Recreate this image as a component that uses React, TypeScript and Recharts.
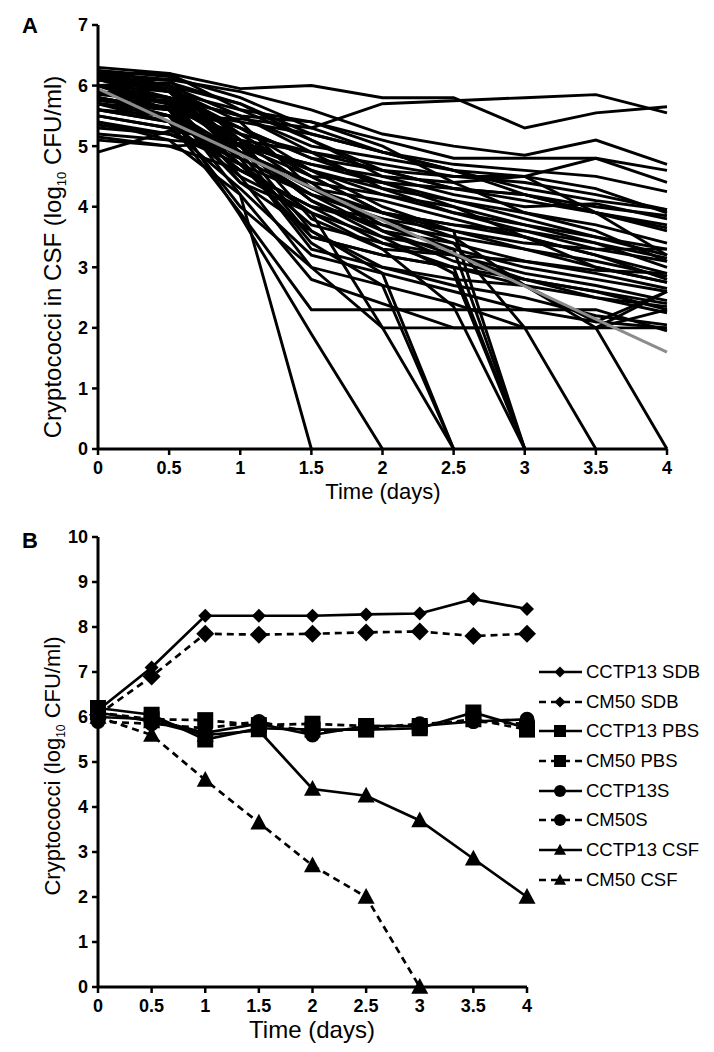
import React from "react";
import { LineChart, Line, XAxis, YAxis } from "recharts";

// sampling days shared by both panels
const days = [0, 0.5, 1, 1.5, 2, 2.5, 3, 3.5, 4];
const panelAYTicks = [0, 1, 2, 3, 4, 5, 6, 7];
const panelBYTicks = [0, 1, 2, 3, 4, 5, 6, 7, 8, 9, 10];

// Panel A: one list per patient, log10 CFU/ml at each day (stops once cleared)
const patientLogCfu: number[][] = [
  [6.2, 6.2, 5.95, 6.0, 5.8, 5.8, 5.3, 5.55, 5.65],
  [5.6, 5.5, 5.45, 5.3, 5.7, 5.75, 5.8, 5.85, 5.55],
  [6.1, 6.1, 5.9, 5.6, 5.2, 5.0, 4.85, 5.1, 4.7],
  [6.0, 5.9, 5.6, 5.4, 5.1, 4.8, 4.8, 4.8, 4.6],
  [5.9, 5.8, 5.5, 5.0, 4.8, 4.6, 4.5, 4.8, 4.4],
  [6.2, 6.0, 5.7, 5.2, 4.9, 4.7, 4.6, 4.5, 4.25],
  [5.8, 5.6, 5.2, 4.9, 4.7, 4.5, 4.4, 4.2, 3.95],
  [6.1, 5.9, 5.3, 4.8, 4.6, 4.5, 4.5, 4.3, 3.9],
  [5.5, 5.3, 5.0, 4.7, 4.4, 4.3, 4.2, 4.0, 3.85],
  [6.3, 6.2, 5.6, 5.1, 4.5, 4.2, 4.0, 4.05, 3.8],
  [5.7, 5.6, 5.4, 5.2, 4.9, 4.6, 4.2, 3.9, 3.7],
  [6.0, 5.7, 5.1, 4.6, 4.3, 4.1, 3.9, 3.7, 3.4],
  [5.2, 5.1, 5.0, 4.7, 4.5, 4.4, 4.5, 3.9, 3.2],
  [5.9, 5.8, 5.5, 5.4, 5.0, 4.4, 3.9, 3.6, 3.1],
  [6.1, 5.8, 4.9, 4.3, 4.1, 3.8, 3.5, 3.2, 2.9],
  [5.8, 5.5, 4.6, 4.0, 3.7, 3.5, 3.3, 3.1, 2.85],
  [6.2, 6.0, 5.2, 4.5, 3.9, 3.6, 3.3, 3.0, 2.75],
  [5.4, 5.2, 4.8, 4.2, 3.8, 3.4, 3.1, 2.9, 2.65],
  [6.0, 5.6, 4.4, 3.9, 3.5, 3.3, 3.0, 2.8, 2.6],
  [5.7, 5.5, 4.7, 3.7, 3.4, 3.2, 2.9, 2.7, 2.45],
  [6.2, 5.9, 4.9, 3.5, 3.2, 3.0, 2.8, 2.6, 2.3],
  [5.9, 5.7, 5.0, 4.1, 3.6, 3.2, 2.8, 2.5, 2.25],
  [5.1, 5.0, 4.6, 4.0, 3.4, 3.0, 2.7, 2.1, 2.6],
  [6.0, 5.8, 5.3, 4.6, 4.0, 3.6, 3.4, 3.3, 3.3],
  [5.6, 5.4, 4.9, 4.4, 4.2, 4.0, 3.7, 3.5, 3.2],
  [6.1, 6.0, 5.5, 4.9, 4.3, 3.9, 3.6, 3.3, 3.1],
  [5.3, 5.2, 4.7, 4.2, 3.9, 3.7, 3.5, 3.0, 2.75],
  [5.8, 5.6, 4.8, 3.3, 3.0, 2.8, 2.7, 2.5, 2.35],
  [6.2, 6.1, 5.1, 3.8, 3.3, 3.2, 3.1, 2.95, 2.9],
  [5.9, 5.7, 4.2, 2.8, 2.4, 2.0, 2.0, 2.0, 2.0],
  [6.0, 5.8, 4.5, 3.0, 2.0, 2.0, 2.0, 2.0, 2.6],
  [5.7, 5.4, 3.9, 2.3, 2.3, 2.3, 2.3, 2.3, 1.95],
  [6.1, 5.9, 4.8, 3.4, 2.7, 2.4, 2.0, 2.0, 2.3],
  [5.5, 5.3, 4.3, 3.2, 2.9, 2.6, 2.3, 2.1, 2.0],
  [6.2, 6.0, 5.0, 3.6, 3.0, 2.7, 2.5, 2.2, 2.05],
  [5.4, 5.1, 4.2, 0],
  [5.9, 5.6, 3.85, 1.9, 0],
  [5.8, 5.5, 4.0, 3.0, 2.7, 0],
  [6.0, 5.7, 4.4, 3.6, 2.9, 0],
  [5.6, 5.4, 4.5, 3.9, 2.0, 0],
  [6.2, 5.9, 5.0, 4.1, 3.5, 2.9, 0],
  [5.9, 5.6, 4.7, 3.9, 3.3, 2.35, 0],
  [5.7, 5.5, 4.6, 4.0, 3.8, 3.6, 0],
  [6.0, 5.8, 5.1, 4.3, 3.7, 3.3, 0],
  [5.8, 5.6, 4.9, 4.2, 3.6, 3.4, 2.0, 0],
  [6.1, 5.9, 5.2, 4.5, 3.9, 3.5, 2.7, 2.0, 0],
  [6.0, 5.7, 4.7, 3.5, 3.2, 3.0, 0],
  [4.9, 5.25, 5.1, 4.9, 4.6, 4.3, 4.1, 3.9, 3.65],
  [5.15, 5.0, 5.05, 4.6, 4.2, 3.9, 3.7, 3.4, 3.0],
  [5.35, 5.2, 4.9, 4.4, 3.6, 3.1, 2.8, 2.6, 2.4],
  [6.25, 6.15, 5.8, 5.3, 4.9, 4.6, 4.3, 4.1, 3.95],
  [6.0, 6.05, 5.7, 5.1, 4.6, 4.3, 4.2, 3.9, 3.6],
  [5.75, 5.65, 5.3, 4.8, 4.4, 4.1, 3.8, 3.5, 3.3],
  [6.15, 5.95, 5.4, 4.3, 3.9, 3.7, 3.6, 3.4, 3.15],
  [5.85, 5.75, 5.0, 4.5, 4.4, 4.0, 3.5, 3.2, 2.8],
];

// grey fitted decline line
const trendDays = [0, 4];
const trendLogCfu = [5.95, 1.6];

// Panel B series
const cctp13Sdb = [6.15, 7.1, 8.25, 8.25, 8.25, 8.28, 8.3, 8.62, 8.4];
const cm50Sdb = [6.05, 6.9, 7.85, 7.83, 7.85, 7.88, 7.9, 7.8, 7.85];
const cctp13Pbs = [6.2, 6.05, 5.5, 5.75, 5.72, 5.72, 5.75, 6.1, 5.75];
const cm50Pbs = [6.1, 5.95, 5.93, 5.82, 5.85, 5.8, 5.8, 5.95, 5.72];
const cctp13S = [6.0, 5.95, 5.65, 5.85, 5.6, 5.8, 5.8, 5.9, 5.95];
const cm50S = [5.9, 5.85, 5.75, 5.9, 5.65, 5.75, 5.85, 5.9, 5.85];
const cctp13Csf = [6.1, 5.9, 5.6, 5.7, 4.4, 4.25, 3.7, 2.85, 2.0];
const cm50Csf = [6.0, 5.6, 4.6, 3.65, 2.7, 2.0, 0];

type Shape = "diamond" | "square" | "circle" | "triangle";

const seriesB: { key: string; name: string; values: number[]; dashed: boolean; shape: Shape; size: number }[] = [
  { key: "cctp13Sdb", name: "CCTP13 SDB", values: cctp13Sdb, dashed: false, shape: "diamond", size: 14 },
  { key: "cm50Sdb", name: "CM50 SDB", values: cm50Sdb, dashed: true, shape: "diamond", size: 18 },
  { key: "cctp13Pbs", name: "CCTP13 PBS", values: cctp13Pbs, dashed: false, shape: "square", size: 16 },
  { key: "cm50Pbs", name: "CM50 PBS", values: cm50Pbs, dashed: true, shape: "square", size: 16 },
  { key: "cctp13S", name: "CCTP13S", values: cctp13S, dashed: false, shape: "circle", size: 15 },
  { key: "cm50S", name: "CM50S", values: cm50S, dashed: true, shape: "circle", size: 15 },
  { key: "cctp13Csf", name: "CCTP13 CSF", values: cctp13Csf, dashed: false, shape: "triangle", size: 17 },
  { key: "cm50Csf", name: "CM50 CSF", values: cm50Csf, dashed: true, shape: "triangle", size: 17 },
];
// draw order so squares and diamonds sit on top like the original
const drawOrderB = ["cctp13S", "cm50S", "cctp13Csf", "cm50Csf", "cm50Pbs", "cctp13Pbs", "cm50Sdb", "cctp13Sdb"];

const rowsA = days.map((day, i) => {
  const row: Record<string, number> = { day };
  patientLogCfu.forEach((p, j) => {
    if (p[i] !== undefined) row[`p${j}`] = p[i];
  });
  const t = trendDays.indexOf(day);
  if (t >= 0) row.trend = trendLogCfu[t];
  return row;
});

const rowsB = days.map((day, i) => {
  const row: Record<string, number> = { day };
  seriesB.forEach((s) => {
    if (s.values[i] !== undefined) row[s.key] = s.values[i];
  });
  return row;
});

const FONT = '"Liberation Sans", Arial, Helvetica, sans-serif';
const NARROW = '"Liberation Sans Narrow", "Liberation Sans", Arial, sans-serif';

function Marker({ cx, cy, shape, size }: { cx: number; cy: number; shape: Shape; size: number }) {
  const r = size / 2;
  if (shape === "diamond")
    return <path d={`M${cx},${cy - r}L${cx + r},${cy}L${cx},${cy + r}L${cx - r},${cy}Z`} fill="#000" />;
  if (shape === "square") return <rect x={cx - r} y={cy - r} width={size} height={size} fill="#000" />;
  if (shape === "circle") return <circle cx={cx} cy={cy} r={r} fill="#000" />;
  return <path d={`M${cx},${cy - r * 1.05}L${cx + r},${cy + r * 0.8}L${cx - r},${cy + r * 0.8}Z`} fill="#000" />;
}

function LegendB() {
  return (
    <div style={{ position: "absolute", left: 538, top: 657 }}>
      {seriesB.map((s) => (
        <div key={s.key} style={{ display: "flex", alignItems: "center", height: 29.7 }}>
          <svg width={46} height={20}>
            <line
              x1={1}
              y1={10}
              x2={44}
              y2={10}
              stroke="#000"
              strokeWidth={2.6}
              strokeDasharray={s.dashed ? "7 5" : undefined}
            />
            <Marker cx={22} cy={10} shape={s.shape} size={s.shape === "diamond" ? 11 : 12} />
          </svg>
          <span style={{ fontFamily: FONT, fontSize: 18.5, marginLeft: 2, color: "#000", whiteSpace: "nowrap" }}>
            {s.name}
          </span>
        </div>
      ))}
    </div>
  );
}

const tickA = { fill: "#000", fontFamily: FONT, fontSize: 18, fontWeight: 700 };
const tickB = { fill: "#000", fontFamily: NARROW, fontSize: 18, fontWeight: 700 };

export default function App() {
  return (
    <div style={{ position: "relative", width: 714, height: 1052, margin: -8, background: "#fff" }}>
      {/* Panel A */}
      <div style={{ position: "absolute", left: 22, top: 15, fontFamily: FONT, fontWeight: 700, fontSize: 22, lineHeight: "22px" }}>A</div>
      <div style={{ position: "absolute", left: 0, top: 0 }}>
        <LineChart width={714} height={500} data={rowsA} margin={{ top: 25, right: 47, bottom: 21, left: 0 }}>
          <XAxis
            dataKey="day"
            type="number"
            domain={[0, 4]}
            ticks={days}
            height={30}
            tick={tickA}
            tickSize={6}
            tickMargin={6}
            axisLine={{ stroke: "#000", strokeWidth: 3 }}
            tickLine={{ stroke: "#000", strokeWidth: 2.5 }}
          />
          <YAxis
            type="number"
            domain={[0, 7]}
            ticks={panelAYTicks}
            width={98}
            tick={tickA}
            tickSize={6}
            tickMargin={4}
            axisLine={{ stroke: "#000", strokeWidth: 3 }}
            tickLine={{ stroke: "#000", strokeWidth: 2.5 }}
          />
          {patientLogCfu.map((_, j) => (
            <Line
              key={`p${j}`}
              dataKey={`p${j}`}
              stroke="#000"
              strokeWidth={2.9}
              dot={false}
              isAnimationActive={false}
            />
          ))}
          <Line dataKey="trend" stroke="#8c8c8c" strokeWidth={3} dot={false} connectNulls isAnimationActive={false} />
        </LineChart>
      </div>
      <div
        style={{
          position: "absolute",
          left: 54,
          top: 257,
          transform: "translate(-50%, -50%) rotate(-90deg)",
          whiteSpace: "nowrap",
          fontFamily: FONT,
          fontSize: 24,
        }}
      >
        Cryptococci in CSF (log<sub style={{ fontSize: 13 }}>10</sub> CFU/ml)
      </div>
      <div style={{ position: "absolute", left: 383, top: 492, transform: "translate(-50%, -50%)", fontFamily: FONT, fontSize: 22, whiteSpace: "nowrap" }}>
        Time (days)
      </div>

      {/* Panel B */}
      <div style={{ position: "absolute", left: 22, top: 530, fontFamily: FONT, fontWeight: 700, fontSize: 22, lineHeight: "22px" }}>B</div>
      <div style={{ position: "absolute", left: 0, top: 520 }}>
        <LineChart width={714} height={530} data={rowsB} margin={{ top: 17, right: 187, bottom: 33, left: 0 }}>
          <XAxis
            dataKey="day"
            type="number"
            domain={[0, 4]}
            ticks={days}
            height={30}
            tick={tickB}
            tickSize={6}
            tickMargin={6}
            axisLine={{ stroke: "#000", strokeWidth: 3 }}
            tickLine={{ stroke: "#000", strokeWidth: 2.5 }}
          />
          <YAxis
            type="number"
            domain={[0, 10]}
            ticks={panelBYTicks}
            width={98}
            tick={tickB}
            tickSize={6}
            tickMargin={4}
            axisLine={{ stroke: "#000", strokeWidth: 3 }}
            tickLine={{ stroke: "#000", strokeWidth: 2.5 }}
          />
          {drawOrderB.map((k) => {
            const s = seriesB.find((x) => x.key === k)!;
            return (
              <Line
                key={s.key}
                dataKey={s.key}
                name={s.name}
                stroke="#000"
                strokeWidth={2.7}
                strokeDasharray={s.dashed ? "7 5" : undefined}
                isAnimationActive={false}
                dot={(props: any) => (
                  <Marker key={`${s.key}-${props.index}`} cx={props.cx} cy={props.cy} shape={s.shape} size={s.size} />
                )}
              />
            );
          })}
        </LineChart>
      </div>
      <LegendB />
      <div
        style={{
          position: "absolute",
          left: 54,
          top: 766,
          transform: "translate(-50%, -50%) rotate(-90deg)",
          whiteSpace: "nowrap",
          fontFamily: FONT,
          fontSize: 22,
        }}
      >
        Cryptococci (log<sub style={{ fontSize: 12 }}>10</sub> CFU/ml)
      </div>
      <div style={{ position: "absolute", left: 312, top: 1030, transform: "translate(-50%, -50%)", fontFamily: NARROW, fontSize: 24, whiteSpace: "nowrap" }}>
        Time (days)
      </div>
    </div>
  );
}
